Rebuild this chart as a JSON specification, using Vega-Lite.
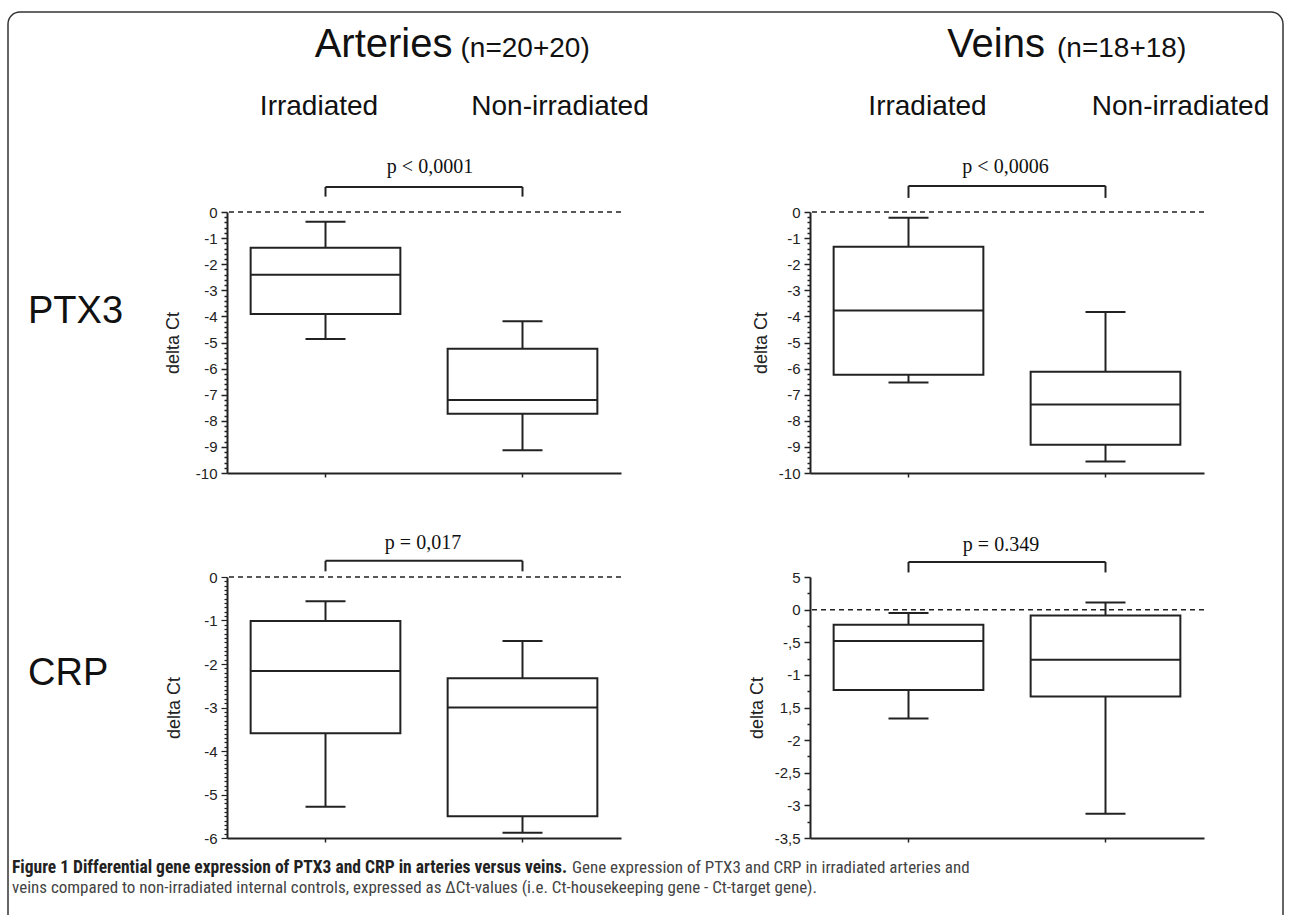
{
  "$schema": "https://vega.github.io/schema/vega-lite/v6.json",
  "padding": {"left": 7, "top": 11, "right": 5, "bottom": 0},
  "background": "white",
  "config": {"view": {"stroke": null}, "font": "Liberation Sans", "tick": {"opacity": 1}},
  "datasets": {
    "boxes": [
      {"gene": "PTX3", "vessel": "Arteries", "group": "Irradiated", "lower": -4.87, "q1": -3.91, "median": -2.40, "q3": -1.37, "upper": -0.37},
      {"gene": "PTX3", "vessel": "Arteries", "group": "Non-irradiated", "lower": -9.13, "q1": -7.73, "median": -7.20, "q3": -5.24, "upper": -4.19},
      {"gene": "PTX3", "vessel": "Veins", "group": "Irradiated", "lower": -6.53, "q1": -6.24, "median": -3.77, "q3": -1.33, "upper": -0.22},
      {"gene": "PTX3", "vessel": "Veins", "group": "Non-irradiated", "lower": -9.56, "q1": -8.92, "median": -7.38, "q3": -6.12, "upper": -3.83},
      {"gene": "CRP", "vessel": "Arteries", "group": "Irradiated", "lower": -5.28, "q1": -3.59, "median": -2.16, "q3": -1.01, "upper": -0.56},
      {"gene": "CRP", "vessel": "Arteries", "group": "Non-irradiated", "lower": -5.88, "q1": -5.50, "median": -3.00, "q3": -2.33, "upper": -1.47},
      {"gene": "CRP", "vessel": "Veins", "group": "Irradiated", "lower": -1.67, "q1": -1.23, "median": -0.48, "q3": -0.23, "upper": -0.05},
      {"gene": "CRP", "vessel": "Veins", "group": "Non-irradiated", "lower": -3.13, "q1": -1.33, "median": -0.77, "q3": -0.09, "upper": 0.11}
    ]
  },
  "columns": 2,
  "bounds": "flush",
  "spacing": {"row": 104, "column": 189},
  "concat": [
    {
      "width": 394, "height": 261,
      "layer": [
        {"data": {"values": [{}]}, "mark": {"type": "rect", "fill": null, "stroke": "#333", "strokeWidth": 1.5, "cornerRadius": 12, "xOffset": -317.5, "x2Offset": 760.5}, "encoding": {"x": {"datum": "Irradiated"}, "x2": {"datum": "Non-irradiated"}, "y": {"datum": 7.66}, "y2": {"datum": -27.5}}},
        {"data": {"values": [{}]}, "mark": {"type": "rule", "strokeDash": [5, 4], "color": "#222", "strokeWidth": 1.5}, "encoding": {"y": {"datum": 0}}},
        {
          "data": {"name": "boxes"},
          "transform": [{"filter": "datum.gene === 'PTX3' && datum.vessel === 'Arteries'"}],
          "encoding": {
            "x": {"field": "group", "type": "nominal", "scale": {"type": "band", "domain": ["Irradiated", "Non-irradiated"], "paddingInner": 0, "paddingOuter": 0}, "axis": {"labels": false, "title": null, "domainColor": "#222", "domainWidth": 2, "tickColor": "#222", "tickSize": 4, "tickWidth": 1.5}}
          },
          "layer": [
            {"mark": {"type": "rule", "color": "#222", "strokeWidth": 2}, "encoding": {"y": {"field": "lower", "type": "quantitative", "scale": {"domain": [-10, 0], "nice": false, "zero": false}, "axis": {"title": "delta Ct", "tickCount": 500, "values": [0,-0.2,-0.4,-0.6,-0.8,-1,-1.2,-1.4,-1.6,-1.8,-2,-2.2,-2.4,-2.6,-2.8,-3,-3.2,-3.4,-3.6,-3.8,-4,-4.2,-4.4,-4.6,-4.8,-5,-5.2,-5.4,-5.6,-5.8,-6,-6.2,-6.4,-6.6,-6.8,-7,-7.2,-7.4,-7.6,-7.8,-8,-8.2,-8.4,-8.6,-8.8,-9,-9.2,-9.4,-9.6,-9.8,-10], "labelExpr": "abs(datum.value - round(datum.value)) < 0.001 ? '' + round(datum.value) : ''", "tickSize": {"condition": {"test": "abs(datum.value - round(datum.value)) < 0.001", "value": 6}, "value": 3}, "labelOverlap": false, "labelFlush": false, "grid": false, "domainColor": "#222", "domainWidth": 2, "tickColor": "#222", "tickWidth": 1.5, "labelFont": "Liberation Sans", "labelFontSize": 15, "labelColor": "#222", "labelPadding": 4, "titleFont": "Liberation Sans", "titleFontSize": 18, "titleFontWeight": "normal", "titleColor": "#222", "titlePadding": 13}}, "y2": {"field": "upper"}}},
            {"mark": {"type": "bar", "fill": "white", "stroke": "#222", "strokeWidth": 2, "width": {"band": 0.76}}, "encoding": {"y": {"field": "q1", "type": "quantitative"}, "y2": {"field": "q3"}}},
            {"mark": {"type": "tick", "color": "#222", "opacity": 1, "size": 150, "thickness": 2}, "encoding": {"y": {"field": "median", "type": "quantitative"}}},
            {"mark": {"type": "tick", "color": "#222", "opacity": 1, "size": 40, "thickness": 2}, "encoding": {"y": {"field": "lower", "type": "quantitative"}}},
            {"mark": {"type": "tick", "color": "#222", "opacity": 1, "size": 40, "thickness": 2}, "encoding": {"y": {"field": "upper", "type": "quantitative"}}}
          ]
        },
        {"data": {"values": [{}]}, "mark": {"type": "rule", "color": "#222", "strokeWidth": 2}, "encoding": {"x": {"datum": "Irradiated"}, "x2": {"datum": "Non-irradiated"}, "y": {"datum": 0.96}}},
        {"data": {"values": [{}]}, "mark": {"type": "rule", "color": "#222", "strokeWidth": 2}, "encoding": {"x": {"datum": "Irradiated"}, "y": {"datum": 0.59}, "y2": {"datum": 0.96}}},
        {"data": {"values": [{}]}, "mark": {"type": "rule", "color": "#222", "strokeWidth": 2}, "encoding": {"x": {"datum": "Non-irradiated"}, "y": {"datum": 0.59}, "y2": {"datum": 0.96}}},
        {"data": {"values": [{}]}, "mark": {"type": "text", "text": "p < 0,0001", "font": "Liberation Serif", "fontSize": 20, "align": "center", "baseline": "alphabetic", "dx": 6, "color": "#111"}, "encoding": {"x": {"datum": "Irradiated", "bandPosition": 1}, "y": {"datum": 1.51}}},
        {"data": {"values": [{}]}, "mark": {"type": "text", "text": "Arteries", "fontSize": 40, "align": "right", "baseline": "alphabetic", "dx": 28.5, "color": "#111"}, "encoding": {"x": {"datum": "Irradiated", "bandPosition": 1}, "y": {"datum": 5.93}}},
        {"data": {"values": [{}]}, "mark": {"type": "text", "text": "(n=20+20)", "fontSize": 28, "align": "left", "baseline": "alphabetic", "dx": 36.5, "color": "#111"}, "encoding": {"x": {"datum": "Irradiated", "bandPosition": 1}, "y": {"datum": 5.93}}},
        {"data": {"values": [{}]}, "mark": {"type": "text", "text": "Irradiated", "fontSize": 28, "align": "center", "baseline": "alphabetic", "dx": -6.5, "color": "#111"}, "encoding": {"x": {"datum": "Irradiated"}, "y": {"datum": 3.72}}},
        {"data": {"values": [{}]}, "mark": {"type": "text", "text": "Non-irradiated", "fontSize": 28, "align": "center", "baseline": "alphabetic", "dx": 37.5, "color": "#111"}, "encoding": {"x": {"datum": "Non-irradiated"}, "y": {"datum": 3.72}}},
        {"data": {"values": [{}]}, "mark": {"type": "text", "text": "PTX3", "fontSize": 38, "align": "left", "baseline": "alphabetic", "dx": -297.5, "color": "#111"}, "encoding": {"x": {"datum": "Irradiated"}, "y": {"datum": -4.25}}}
      ]
    },
    {
      "width": 394, "height": 261,
      "layer": [
        {"data": {"values": [{}]}, "mark": {"type": "rule", "strokeDash": [5, 4], "color": "#222", "strokeWidth": 1.5}, "encoding": {"y": {"datum": 0}}},
        {
          "data": {"name": "boxes"},
          "transform": [{"filter": "datum.gene === 'PTX3' && datum.vessel === 'Veins'"}],
          "encoding": {
            "x": {"field": "group", "type": "nominal", "scale": {"type": "band", "domain": ["Irradiated", "Non-irradiated"], "paddingInner": 0, "paddingOuter": 0}, "axis": {"labels": false, "title": null, "domainColor": "#222", "domainWidth": 2, "tickColor": "#222", "tickSize": 4, "tickWidth": 1.5}}
          },
          "layer": [
            {"mark": {"type": "rule", "color": "#222", "strokeWidth": 2}, "encoding": {"y": {"field": "lower", "type": "quantitative", "scale": {"domain": [-10, 0], "nice": false, "zero": false}, "axis": {"title": "delta Ct", "tickCount": 500, "values": [0,-0.2,-0.4,-0.6,-0.8,-1,-1.2,-1.4,-1.6,-1.8,-2,-2.2,-2.4,-2.6,-2.8,-3,-3.2,-3.4,-3.6,-3.8,-4,-4.2,-4.4,-4.6,-4.8,-5,-5.2,-5.4,-5.6,-5.8,-6,-6.2,-6.4,-6.6,-6.8,-7,-7.2,-7.4,-7.6,-7.8,-8,-8.2,-8.4,-8.6,-8.8,-9,-9.2,-9.4,-9.6,-9.8,-10], "labelExpr": "abs(datum.value - round(datum.value)) < 0.001 ? '' + round(datum.value) : ''", "tickSize": {"condition": {"test": "abs(datum.value - round(datum.value)) < 0.001", "value": 6}, "value": 3}, "labelOverlap": false, "labelFlush": false, "grid": false, "domainColor": "#222", "domainWidth": 2, "tickColor": "#222", "tickWidth": 1.5, "labelFont": "Liberation Sans", "labelFontSize": 15, "labelColor": "#222", "labelPadding": 4, "titleFont": "Liberation Sans", "titleFontSize": 18, "titleFontWeight": "normal", "titleColor": "#222", "titlePadding": 8}}, "y2": {"field": "upper"}}},
            {"mark": {"type": "bar", "fill": "white", "stroke": "#222", "strokeWidth": 2, "width": {"band": 0.76}}, "encoding": {"y": {"field": "q1", "type": "quantitative"}, "y2": {"field": "q3"}}},
            {"mark": {"type": "tick", "color": "#222", "opacity": 1, "size": 150, "thickness": 2}, "encoding": {"y": {"field": "median", "type": "quantitative"}}},
            {"mark": {"type": "tick", "color": "#222", "opacity": 1, "size": 40, "thickness": 2}, "encoding": {"y": {"field": "lower", "type": "quantitative"}}},
            {"mark": {"type": "tick", "color": "#222", "opacity": 1, "size": 40, "thickness": 2}, "encoding": {"y": {"field": "upper", "type": "quantitative"}}}
          ]
        },
        {"data": {"values": [{}]}, "mark": {"type": "rule", "color": "#222", "strokeWidth": 2}, "encoding": {"x": {"datum": "Irradiated"}, "x2": {"datum": "Non-irradiated"}, "y": {"datum": 1.0}}},
        {"data": {"values": [{}]}, "mark": {"type": "rule", "color": "#222", "strokeWidth": 2}, "encoding": {"x": {"datum": "Irradiated"}, "y": {"datum": 0.54}, "y2": {"datum": 1.0}}},
        {"data": {"values": [{}]}, "mark": {"type": "rule", "color": "#222", "strokeWidth": 2}, "encoding": {"x": {"datum": "Non-irradiated"}, "y": {"datum": 0.54}, "y2": {"datum": 1.0}}},
        {"data": {"values": [{}]}, "mark": {"type": "text", "text": "p < 0,0006", "font": "Liberation Serif", "fontSize": 20, "align": "center", "baseline": "alphabetic", "dx": -1.5, "color": "#111"}, "encoding": {"x": {"datum": "Irradiated", "bandPosition": 1}, "y": {"datum": 1.51}}},
        {"data": {"values": [{}]}, "mark": {"type": "text", "text": "Veins", "fontSize": 40, "align": "right", "baseline": "alphabetic", "dx": 38, "color": "#111"}, "encoding": {"x": {"datum": "Irradiated", "bandPosition": 1}, "y": {"datum": 5.93}}},
        {"data": {"values": [{}]}, "mark": {"type": "text", "text": "(n=18+18)", "fontSize": 28, "align": "left", "baseline": "alphabetic", "dx": 50, "color": "#111"}, "encoding": {"x": {"datum": "Irradiated", "bandPosition": 1}, "y": {"datum": 5.93}}},
        {"data": {"values": [{}]}, "mark": {"type": "text", "text": "Irradiated", "fontSize": 28, "align": "center", "baseline": "alphabetic", "dx": 19, "color": "#111"}, "encoding": {"x": {"datum": "Irradiated"}, "y": {"datum": 3.72}}},
        {"data": {"values": [{}]}, "mark": {"type": "text", "text": "Non-irradiated", "fontSize": 28, "align": "center", "baseline": "alphabetic", "dx": 75, "color": "#111"}, "encoding": {"x": {"datum": "Non-irradiated"}, "y": {"datum": 3.72}}}
      ]
    },
    {
      "width": 394, "height": 261,
      "layer": [
        {"data": {"values": [{}]}, "mark": {"type": "rule", "strokeDash": [5, 4], "color": "#222", "strokeWidth": 1.5}, "encoding": {"y": {"datum": 0}}},
        {
          "data": {"name": "boxes"},
          "transform": [{"filter": "datum.gene === 'CRP' && datum.vessel === 'Arteries'"}],
          "encoding": {
            "x": {"field": "group", "type": "nominal", "scale": {"type": "band", "domain": ["Irradiated", "Non-irradiated"], "paddingInner": 0, "paddingOuter": 0}, "axis": {"labels": false, "title": null, "domainColor": "#222", "domainWidth": 2, "tickColor": "#222", "tickSize": 4, "tickWidth": 1.5}}
          },
          "layer": [
            {"mark": {"type": "rule", "color": "#222", "strokeWidth": 2}, "encoding": {"y": {"field": "lower", "type": "quantitative", "scale": {"domain": [-6, 0], "nice": false, "zero": false}, "axis": {"title": "delta Ct", "tickCount": 500, "values": [0,-0.1,-0.2,-0.3,-0.4,-0.5,-0.6,-0.7,-0.8,-0.9,-1,-1.1,-1.2,-1.3,-1.4,-1.5,-1.6,-1.7,-1.8,-1.9,-2,-2.1,-2.2,-2.3,-2.4,-2.5,-2.6,-2.7,-2.8,-2.9,-3,-3.1,-3.2,-3.3,-3.4,-3.5,-3.6,-3.7,-3.8,-3.9,-4,-4.1,-4.2,-4.3,-4.4,-4.5,-4.6,-4.7,-4.8,-4.9,-5,-5.1,-5.2,-5.3,-5.4,-5.5,-5.6,-5.7,-5.8,-5.9,-6], "labelExpr": "abs(datum.value - round(datum.value)) < 0.001 ? '' + round(datum.value) : ''", "tickSize": {"condition": {"test": "abs(datum.value - round(datum.value)) < 0.001", "value": 6}, "value": 3}, "labelOverlap": false, "labelFlush": false, "grid": false, "domainColor": "#222", "domainWidth": 2, "tickColor": "#222", "tickWidth": 1.2, "labelFont": "Liberation Sans", "labelFontSize": 15, "labelColor": "#222", "labelPadding": 4, "titleFont": "Liberation Sans", "titleFontSize": 18, "titleFontWeight": "normal", "titleColor": "#222", "titlePadding": 20}}, "y2": {"field": "upper"}}},
            {"mark": {"type": "bar", "fill": "white", "stroke": "#222", "strokeWidth": 2, "width": {"band": 0.76}}, "encoding": {"y": {"field": "q1", "type": "quantitative"}, "y2": {"field": "q3"}}},
            {"mark": {"type": "tick", "color": "#222", "opacity": 1, "size": 150, "thickness": 2}, "encoding": {"y": {"field": "median", "type": "quantitative"}}},
            {"mark": {"type": "tick", "color": "#222", "opacity": 1, "size": 40, "thickness": 2}, "encoding": {"y": {"field": "lower", "type": "quantitative"}}},
            {"mark": {"type": "tick", "color": "#222", "opacity": 1, "size": 40, "thickness": 2}, "encoding": {"y": {"field": "upper", "type": "quantitative"}}}
          ]
        },
        {"data": {"values": [{}]}, "mark": {"type": "rule", "color": "#222", "strokeWidth": 2}, "encoding": {"x": {"datum": "Irradiated"}, "x2": {"datum": "Non-irradiated"}, "y": {"datum": 0.373}}},
        {"data": {"values": [{}]}, "mark": {"type": "rule", "color": "#222", "strokeWidth": 2}, "encoding": {"x": {"datum": "Irradiated"}, "y": {"datum": 0.13}, "y2": {"datum": 0.373}}},
        {"data": {"values": [{}]}, "mark": {"type": "rule", "color": "#222", "strokeWidth": 2}, "encoding": {"x": {"datum": "Non-irradiated"}, "y": {"datum": 0.13}, "y2": {"datum": 0.373}}},
        {"data": {"values": [{}]}, "mark": {"type": "text", "text": "p =  0,017", "font": "Liberation Serif", "fontSize": 20, "align": "center", "baseline": "alphabetic", "dx": -1, "color": "#111"}, "encoding": {"x": {"datum": "Irradiated", "bandPosition": 1}, "y": {"datum": 0.64}}},
        {"data": {"values": [{}]}, "mark": {"type": "text", "text": "CRP", "fontSize": 38, "align": "left", "baseline": "alphabetic", "dx": -297.5, "color": "#111"}, "encoding": {"x": {"datum": "Irradiated"}, "y": {"datum": -2.49}}},
        {"data": {"values": [{}]}, "mark": {"type": "text", "text": "Figure 1 Differential gene expression of PTX3 and CRP in arteries versus veins.", "font": "Roboto Condensed, Liberation Sans", "fontWeight": "bold", "fontSize": 17.5, "align": "left", "baseline": "alphabetic", "dx": -313.5, "color": "#222"}, "encoding": {"x": {"datum": "Irradiated"}, "y": {"datum": -6.8}}},
        {"data": {"values": [{}]}, "mark": {"type": "text", "text": "Gene expression of PTX3 and CRP in irradiated arteries and", "font": "Roboto Condensed, Liberation Sans", "fontSize": 17, "align": "left", "baseline": "alphabetic", "dx": 246.5, "color": "#444"}, "encoding": {"x": {"datum": "Irradiated"}, "y": {"datum": -6.8}}},
        {"data": {"values": [{}]}, "mark": {"type": "text", "text": "veins compared to non-irradiated internal controls, expressed as ΔCt-values (i.e. Ct-housekeeping gene - Ct-target gene).", "font": "Roboto Condensed, Liberation Sans", "fontSize": 17, "align": "left", "baseline": "alphabetic", "dx": -313.5, "color": "#444"}, "encoding": {"x": {"datum": "Irradiated"}, "y": {"datum": -7.27}}}
      ]
    },
    {
      "width": 394, "height": 261,
      "layer": [
        {"data": {"values": [{}]}, "mark": {"type": "rule", "strokeDash": [5, 4], "color": "#222", "strokeWidth": 1.5}, "encoding": {"y": {"datum": 0}}},
        {
          "data": {"name": "boxes"},
          "transform": [{"filter": "datum.gene === 'CRP' && datum.vessel === 'Veins'"}],
          "encoding": {
            "x": {"field": "group", "type": "nominal", "scale": {"type": "band", "domain": ["Irradiated", "Non-irradiated"], "paddingInner": 0, "paddingOuter": 0}, "axis": {"labels": false, "title": null, "domainColor": "#222", "domainWidth": 2, "tickColor": "#222", "tickSize": 4, "tickWidth": 1.5}}
          },
          "layer": [
            {"mark": {"type": "rule", "color": "#222", "strokeWidth": 2}, "encoding": {"y": {"field": "lower", "type": "quantitative", "scale": {"domain": [-3.5, 0.5], "nice": false, "zero": false}, "axis": {"title": "delta Ct", "tickCount": 500, "values": [0.5,0.25,0,-0.25,-0.5,-0.75,-1,-1.25,-1.5,-1.75,-2,-2.25,-2.5,-2.75,-3,-3.25,-3.5], "labelExpr": "abs(datum.value*2 - round(datum.value*2)) > 0.001 ? '' : datum.value == 0.5 ? '5' : datum.value == -0.5 ? '-,5' : datum.value == -1.5 ? '1,5' : replace('' + datum.value, '.', ',')", "tickSize": {"condition": {"test": "abs(datum.value*2 - round(datum.value*2)) < 0.001", "value": 6}, "value": 3}, "labelOverlap": false, "labelFlush": false, "grid": false, "domainColor": "#222", "domainWidth": 2, "tickColor": "#222", "tickWidth": 1.5, "labelFont": "Liberation Sans", "labelFontSize": 15, "labelColor": "#222", "labelPadding": 4, "titleFont": "Liberation Sans", "titleFontSize": 18, "titleFontWeight": "normal", "titleColor": "#222", "titlePadding": 8}}, "y2": {"field": "upper"}}},
            {"mark": {"type": "bar", "fill": "white", "stroke": "#222", "strokeWidth": 2, "width": {"band": 0.76}}, "encoding": {"y": {"field": "q1", "type": "quantitative"}, "y2": {"field": "q3"}}},
            {"mark": {"type": "tick", "color": "#222", "opacity": 1, "size": 150, "thickness": 2}, "encoding": {"y": {"field": "median", "type": "quantitative"}}},
            {"mark": {"type": "tick", "color": "#222", "opacity": 1, "size": 40, "thickness": 2}, "encoding": {"y": {"field": "lower", "type": "quantitative"}}},
            {"mark": {"type": "tick", "color": "#222", "opacity": 1, "size": 40, "thickness": 2}, "encoding": {"y": {"field": "upper", "type": "quantitative"}}}
          ]
        },
        {"data": {"values": [{}]}, "mark": {"type": "rule", "color": "#222", "strokeWidth": 2}, "encoding": {"x": {"datum": "Irradiated"}, "x2": {"datum": "Non-irradiated"}, "y": {"datum": 0.73}}},
        {"data": {"values": [{}]}, "mark": {"type": "rule", "color": "#222", "strokeWidth": 2}, "encoding": {"x": {"datum": "Irradiated"}, "y": {"datum": 0.57}, "y2": {"datum": 0.73}}},
        {"data": {"values": [{}]}, "mark": {"type": "rule", "color": "#222", "strokeWidth": 2}, "encoding": {"x": {"datum": "Non-irradiated"}, "y": {"datum": 0.57}, "y2": {"datum": 0.73}}},
        {"data": {"values": [{}]}, "mark": {"type": "text", "text": "p = 0.349", "font": "Liberation Serif", "fontSize": 20, "align": "center", "baseline": "alphabetic", "dx": -6, "color": "#111"}, "encoding": {"x": {"datum": "Irradiated", "bandPosition": 1}, "y": {"datum": 0.90}}}
      ]
    }
  ]
}
